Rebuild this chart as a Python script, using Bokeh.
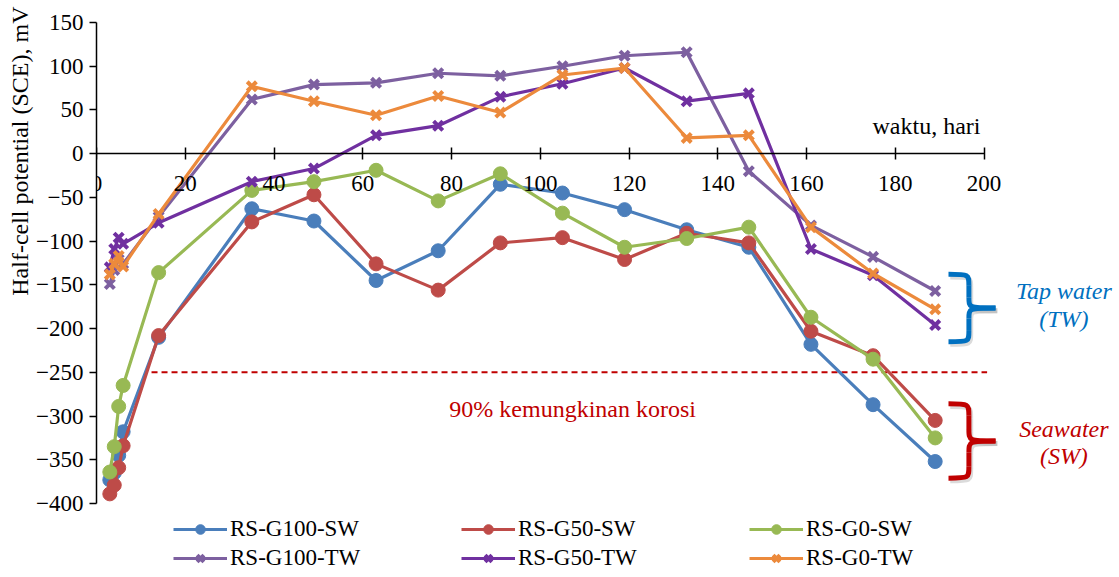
from bokeh.plotting import figure
from bokeh.models import Range1d, LinearAxis, FixedTicker, Legend, LegendItem, Label, Title
from bokeh.embed import file_html
from bokeh.resources import INLINE

# ---------------- data ----------------
days = [3, 4, 5, 6, 14, 35, 49, 63, 77, 91, 105, 119, 133, 147, 161, 175, 189]

g100_sw = [-373, -365, -345, -318, -210, -63, -77, -145, -111, -35, -45, -64, -87, -107, -218, -287, -352]
g50_sw = [-389, -379, -359, -334, -208, -78, -47, -126, -156, -102, -96, -121, -91, -102, -203, -231, -305]
g0_sw = [-364, -335, -289, -265, -136, -42, -32, -19, -54, -23, -68, -107, -97, -84, -187, -235, -325]
g100_tw = [-149, -133, -121, -126, -72, 62, 79, 81, 92, 89, 100, 112, 116, -20, -82, -118, -157]
g50_tw = [-130, -109, -96, -103, -79, -32, -17, 21, 32, 65, 80, 98, 60, 69, -109, -139, -196]
g0_tw = [-138, -126, -117, -129, -69, 77, 60, 44, 66, 47, 90, 98, 18, 21, -84, -137, -178]

series_names = ["RS-G100-SW", "RS-G50-SW", "RS-G0-SW", "RS-G100-TW", "RS-G50-TW", "RS-G0-TW"]
series_values = [g100_sw, g50_sw, g0_sw, g100_tw, g50_tw, g0_tw]
series_colors = ["#4A7EBB", "#BE4B48", "#98B954", "#7D60A0", "#7030A0", "#EC8A3C"]
series_markers = ["circle", "circle", "circle", "x", "x", "x"]

x_ticks = [0, 20, 40, 60, 80, 100, 120, 140, 160, 180, 200]
y_ticks = [-400, -350, -300, -250, -200, -150, -100, -50, 0, 50, 100, 150]

threshold = -250
threshold_days = [12.4, 200.7]
threshold_text = "90% kemungkinan korosi"
x_title = "waktu, hari"
y_title = "Half-cell potential (SCE), mV"

FONT = "Liberation Serif"
RED = "#C00000"
BLUE = "#0070C0"

# ---------------- figure ----------------
W, H = 1119, 572
LEFT, RIGHT, TOP, BOTTOM = 96, 0, 22, 0
frame_w = W - LEFT - RIGHT
frame_h = H - TOP - BOTTOM
px_per_day = 887.5 / 200.0
px_per_mv = 481.0 / 550.0

p = figure(width=W, height=H, output_backend="svg", toolbar_location=None,
           x_range=Range1d(0, frame_w / px_per_day),
           y_range=Range1d(150 - frame_h / px_per_mv, 150),
           x_axis_type=None, y_axis_type=None,
           min_border_left=LEFT, min_border_right=RIGHT, min_border_top=TOP,
           min_border_bottom=BOTTOM)
p.outline_line_color = None
p.background_fill_color = "white"
p.border_fill_color = "white"

xaxis = LinearAxis(fixed_location=0, bounds=(0, 200), ticker=FixedTicker(ticks=x_ticks))
xaxis.axis_line_color = "black"
xaxis.axis_line_width = 1.5
xaxis.major_tick_line_width = 1.5
xaxis.major_tick_in = 6
xaxis.major_tick_out = 6
xaxis.minor_tick_line_color = None
xaxis.major_label_standoff = 16
xaxis.major_label_text_font = FONT
xaxis.major_label_text_font_size = "23px"
xaxis.major_label_text_color = "black"
p.add_layout(xaxis, "below")

yaxis = LinearAxis(bounds=(-400, 150), ticker=FixedTicker(ticks=y_ticks))
yaxis.axis_line_color = "black"
yaxis.axis_line_width = 1.5
yaxis.major_tick_line_width = 1.5
yaxis.major_tick_in = 0
yaxis.major_tick_out = 7
yaxis.minor_tick_line_color = None
yaxis.major_label_standoff = 6
yaxis.major_label_text_font = FONT
yaxis.major_label_text_font_size = "23px"
yaxis.major_label_text_color = "black"
p.add_layout(yaxis, "left")

ytitle = Title(text=y_title, align="right", offset=-16, standoff=2,
               text_font=FONT, text_font_size="24px", text_font_style="normal",
               text_color="black")
p.add_layout(ytitle, "left")

# threshold line
p.line(threshold_days, [threshold, threshold], line_color=RED, line_width=2, line_dash="6 4")
p.add_layout(Label(x=107.3, y=threshold - 42, text=threshold_text, text_font=FONT,
                   text_font_size="24px", text_color=RED, text_align="center",
                   text_baseline="middle"))
p.add_layout(Label(x=199.2, y=32, text=x_title, text_font=FONT, text_font_size="24px",
                   text_color="black", text_align="right", text_baseline="middle"))

# series
items = []
for name, vals, col, mk in zip(series_names, series_values, series_colors, series_markers):
    r_line = p.line(days, vals, line_color=col, line_width=3.2)
    if mk == "circle":
        r_mk = p.scatter(days, vals, marker="circle", size=14, fill_color=col, line_color=col)
    else:
        r_mk = p.scatter(days, vals, marker="x", size=13, line_color=col, line_width=4)
    items.append(LegendItem(label=name, renderers=[r_line, r_mk]))

legend = Legend(items=items, orientation="horizontal", ncols=3, location=(77, 1),
                label_text_font=FONT, label_text_font_size="23px", label_text_color="black",
                glyph_width=54, glyph_height=24, label_height=24, label_width=228,
                label_standoff=3, spacing=3, padding=0, margin=0,
                border_line_color=None, background_fill_alpha=0)
p.add_layout(legend, "center")


# braces next to the end values
def brace(vals_list, color, pad=19):
    ends = [v[-1] for v in vals_list]
    top, bot = max(ends) + pad, min(ends) - pad
    mid = (top + bot) / 2
    x0, xm, xt = 192.0, 196.6, 202.6
    d = (top - bot) * 0.16
    for dx, dy, c, a in [(0.4, -3, "#999999", 0.35), (0, 0, color, 1.0)]:
        p.bezier(x0=[x0 + dx, xm + dx, xm + dx, xm + dx],
                 y0=[top + dy, mid + d + dy, mid - d + dy, bot + d + dy],
                 x1=[xm + dx, xt + dx, xt + dx, x0 + dx],
                 y1=[top - d + dy, mid + dy, mid + dy, bot + dy],
                 cx0=[xm + dx] * 4,
                 cy0=[top + dy, mid + dy, mid + dy, bot + dy],
                 cx1=[xm + dx] * 4,
                 cy1=[top + dy, mid + dy, mid + dy, bot + dy],
                 line_color=c, line_width=5, line_alpha=a)
        p.line([xm + dx, xm + dx], [top - d + dy, mid + d + dy], line_color=c, line_width=5, line_alpha=a)
        p.line([xm + dx, xm + dx], [mid - d + dy, bot + d + dy], line_color=c, line_width=5, line_alpha=a)
    return mid


mid_tw = brace([g100_tw, g50_tw, g0_tw], BLUE)
mid_sw = brace([g100_sw, g50_sw, g0_sw], RED)

for txt, yy, col in [("Tap water", mid_tw + 20, BLUE), ("(TW)", mid_tw - 12, BLUE),
                     ("Seawater", mid_sw + 14, RED), ("(SW)", mid_sw - 17, RED)]:
    p.add_layout(Label(x=218.0, y=yy, text=txt, text_font=FONT, text_font_size="24px",
                       text_font_style="italic", text_color=col, text_align="center",
                       text_baseline="middle"))

open("out.html", "w").write(file_html(p, INLINE))
